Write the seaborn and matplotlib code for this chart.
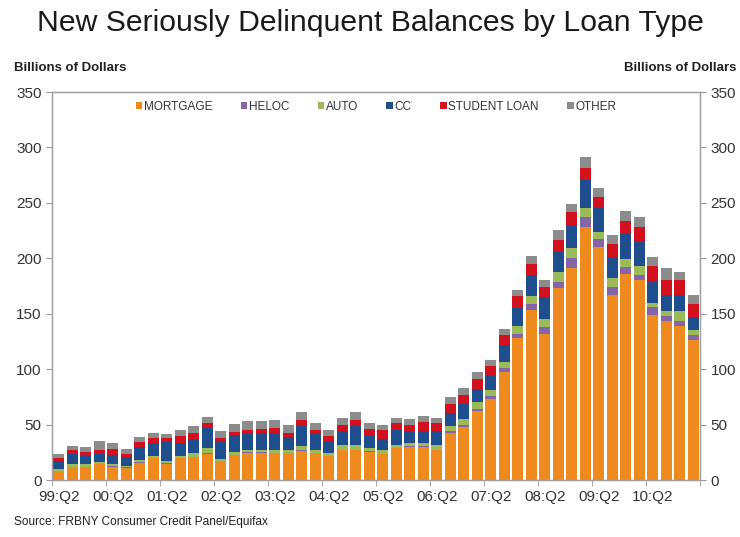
import matplotlib
matplotlib.use("Agg")
import matplotlib.pyplot as plt
from matplotlib.patches import Patch
import seaborn as sns
import pandas as pd
import numpy as np

# ---- data (billions of dollars), quarterly 1999:Q2 .. 2011:Q1 ----
quarters = [f"{(y % 100):02d}:Q{q}" for y in range(1999, 2012) for q in range(1, 5)][1:49]
tick_labels = ["99:Q2", "00:Q2", "01:Q2", "02:Q2", "03:Q2", "04:Q2",
               "05:Q2", "06:Q2", "07:Q2", "08:Q2", "09:Q2", "10:Q2"]

mortgage = [8, 11.7, 11.7, 14, 12, 11, 15.6, 19.5, 14.7, 19.5, 20.7, 23.7,
            17, 22.5, 24.6, 24.6, 24, 24, 26.4, 24, 21.6, 27, 27, 25.5,
            23.4, 28.5, 30, 30, 27, 42.5, 48, 62, 73, 97, 128, 153,
            132, 173, 191, 228, 210, 167, 186, 180, 149, 143, 139, 126]
heloc = [0.3, 0.3, 0.3, 0.3, 0.3, 0.3, 0.3, 0.3, 0.3, 0.3, 0.3, 0.4,
         0.4, 0.4, 0.4, 0.4, 0.4, 0.4, 0.4, 0.4, 0.4, 0.5, 0.5, 0.5,
         0.5, 0.5, 0.5, 0.5, 0.5, 1.5, 2, 2, 2.4, 3.6, 3.9, 6,
         6, 6, 9, 9, 7.5, 7, 6, 5, 7, 4.5, 4, 4.5]
auto = [1.5, 2.4, 2.4, 1.5, 2, 1.5, 2.4, 2, 2.4, 2, 3, 5,
        1.5, 2, 2.4, 2.4, 2.4, 2.4, 3.6, 3, 2.4, 4.5, 4.5, 3,
        3, 3, 3, 3, 4.5, 5, 5, 6, 6, 6, 7.2, 6.6,
        7.5, 9, 9, 8, 6.6, 8, 7.5, 8, 4, 4.5, 9, 4.5]
cc = [7.5, 9, 7.5, 8, 8.4, 7.5, 11.7, 12, 16.5, 12, 13, 18,
      15, 15.5, 14.4, 15, 16, 12, 18.6, 14.4, 10.5, 12, 16.5, 12,
      10, 13, 10.5, 10.5, 12, 11, 14, 12, 12, 15, 16, 19,
      19.5, 18, 21, 25.5, 21, 19.5, 22.5, 22, 19, 15, 15, 12]
student = [2.5, 3.9, 3, 3.3, 5, 3.6, 4, 4.5, 4, 6, 5, 4.5,
           4, 2.5, 3.6, 3.6, 4, 3.6, 5.4, 3, 4.5, 6, 6, 5,
           8.4, 6, 6, 8, 7, 9, 8, 9, 9, 9, 10.5, 10.5,
           9, 10.5, 12, 10.5, 10, 11.4, 12, 13, 14, 13.5, 13.5, 12]
other = [3.5, 3.6, 4.5, 8, 5.4, 4, 5, 4.5, 4, 5, 6.3, 5,
         6.6, 7.5, 8, 7.5, 7, 7.5, 7, 6.6, 6, 6, 6.6, 5.4,
         4.5, 5, 5, 5.4, 5, 6, 6, 6, 6, 6, 6, 6.6,
         6, 9, 7, 10.5, 8, 8, 9, 9, 8, 10.5, 7.5, 7.5]

series_names = ["MORTGAGE", "HELOC", "AUTO", "CC", "STUDENT LOAN", "OTHER"]
series_vals = [mortgage, heloc, auto, cc, student, other]
colors = ["#EF8A1F", "#8466A8", "#9BBB59", "#1F4E8E", "#D3101E", "#8C8C8C"]

df = pd.DataFrame({n: v for n, v in zip(series_names, series_vals)})
df["quarter"] = quarters
cum = df[series_names].cumsum(axis=1)

plt.rcParams["font.family"] = ["Liberation Sans", "DejaVu Sans"]
fig = plt.figure(figsize=(7.4, 5.37), dpi=100)
ax = fig.add_axes([52 / 740, 1 - 480 / 537, 648 / 740, 388 / 537])

# draw stacked bars: cumulative totals from top layer down
for name, col in reversed(list(zip(series_names, colors))):
    sns.barplot(x=df["quarter"], y=cum[name], color=col, saturation=1,
                width=0.82, ax=ax, order=quarters, linewidth=0)

ax.set_xlim(-0.5, len(quarters) - 0.5)
ax.set_ylim(0, 350)
ax.set_xlabel("")
ax.set_ylabel("")
ax.set_yticks(np.arange(0, 351, 50))

major = [quarters.index(t) for t in tick_labels]
ax.set_xticks(major)
ax.set_xticklabels(tick_labels, fontsize=11, color="#333333")
ax.set_xticks(np.arange(-0.5, len(quarters), 4), minor=True)
ax.tick_params(axis="x", which="major", length=0, pad=7)
ax.tick_params(axis="x", which="minor", length=4, color="#999999", direction="out")
ax.tick_params(axis="y", length=4, color="#999999", labelsize=11,
               labelcolor="#333333", direction="out")

for s in ax.spines.values():
    s.set_color("#A0A0A0")
    s.set_linewidth(1.0)

ax2 = ax.twinx()
ax2.set_ylim(0, 350)
ax2.set_yticks(np.arange(0, 351, 50))
ax2.tick_params(axis="y", length=4, color="#999999", labelsize=11,
                labelcolor="#333333", direction="out")
for s in ax2.spines.values():
    s.set_color("#A0A0A0")

handles = [Patch(facecolor=c, edgecolor="none") for c in colors]
ax.legend(handles, series_names, loc="upper center", bbox_to_anchor=(0.5, 1.005),
          ncol=6, frameon=False, fontsize=8.5, handlelength=0.55, handleheight=0.55,
          handletextpad=0.15, columnspacing=2.4, labelcolor="#333333")

fig.text(0.5, 1 - 23 / 537, "New Seriously Delinquent Balances by Loan Type",
         ha="center", va="center", fontsize=21.7, color="#1a1a1a")
fig.text(14 / 740, 1 - 68 / 537, "Billions of Dollars", ha="left", va="center",
         fontsize=9.5, color="#222222", fontweight="bold")
fig.text(736 / 740, 1 - 68 / 537, "Billions of Dollars", ha="right", va="center",
         fontsize=9.5, color="#222222", fontweight="bold")
fig.text(14 / 740, 1 - 522 / 537, "Source: FRBNY Consumer Credit Panel/Equifax",
         ha="left", va="center", fontsize=8.6, color="#222222")

fig.savefig("out.png", dpi=100)
